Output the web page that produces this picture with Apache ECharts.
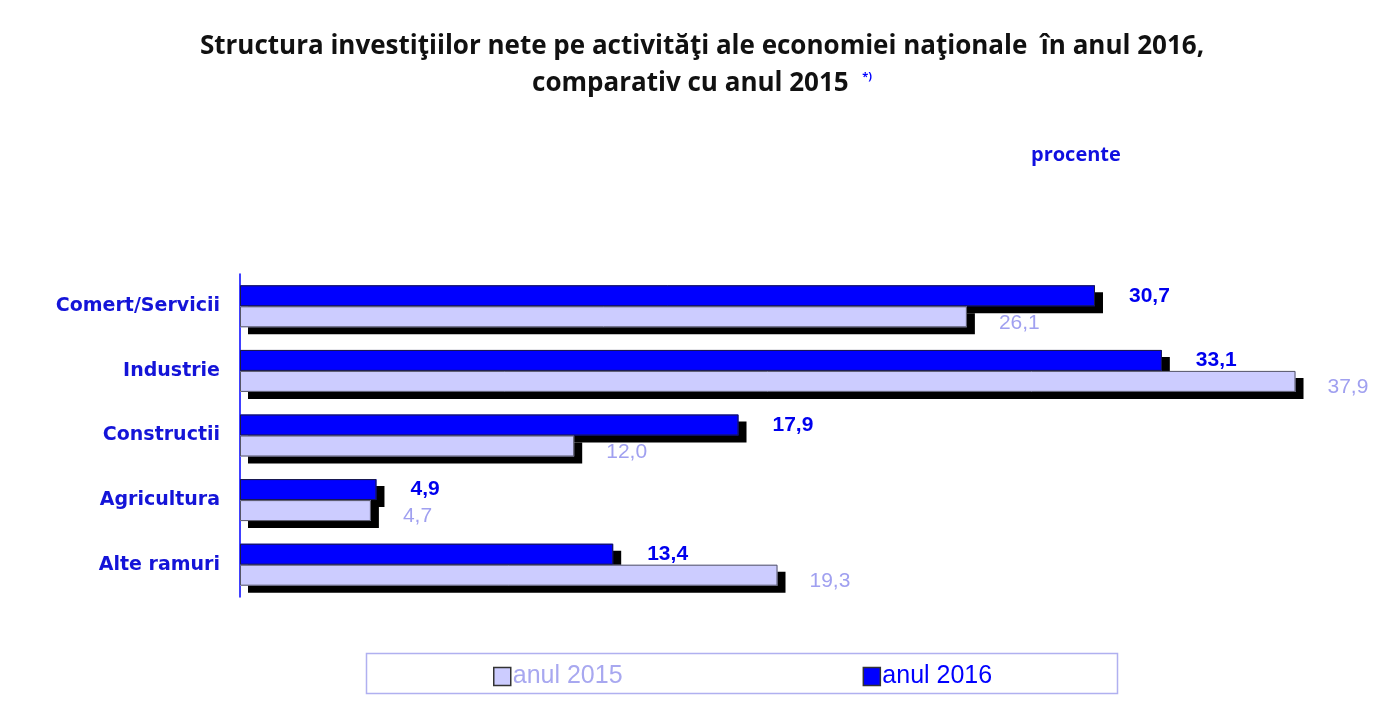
<!DOCTYPE html>
<html><head><meta charset="utf-8">
<script src="https://cdn.jsdelivr.net/npm/echarts@6/dist/echarts.min.js"></script>
<style>html,body{margin:0;padding:0;background:#fff}#c{width:1400px;height:726px}</style>
</head><body><div id="c"></div>
<script>
const categories = ['Comert/Servicii', 'Industrie', 'Constructii', 'Agricultura', 'Alte ramuri'];
const values2015 = [26.1, 37.9, 12.0, 4.7, 19.3];
const values2016 = [30.7, 33.1, 17.9, 4.9, 13.4];
const seriesNames = ['anul 2015', 'anul 2016'];

const fmt = p => p.value.toFixed(1).replace('.', ',');
const outline = (data, color) => ({
  type: 'bar', data: data, yAxisIndex: 1, barWidth: 21, barGap: '0%', silent: true, z: 5,
  itemStyle: { color: 'transparent', borderColor: color, borderWidth: 1 }, label: { show: false }
});
const chart = echarts.init(document.getElementById('c'));
chart.setOption({
  animation: false,
  title: [{
    text: 'Structura investiţiilor nete pe activităţi ale economiei naţionale  în anul 2016,\ncomparativ cu anul 2015  {sup|*)}',
    left: 697, top: 23, textAlign: 'center',
    textStyle: { fontFamily: 'Open Sans', fontWeight: 'bold', fontSize: 26, color: '#111', lineHeight: 37,
      rich: { sup: { fontSize: 11, fontWeight: 'bold', color: '#0000ff', padding: [0, 0, 14, 0], fontFamily: 'Open Sans' } } }
  }, {
    text: 'procente', left: 1026, top: 140,
    textStyle: { fontFamily: 'Open Sans', fontWeight: 'bold', fontSize: 20, color: '#1010e0' }
  }],
  graphic: [{ type: 'rect', shape: { x: 366.5, y: 653.5, width: 751, height: 40 },
    style: { fill: 'none', stroke: '#b0b0f0', lineWidth: 1.5 } }],
  legend: {
    left: 488, top: 659, itemGap: 240, itemWidth: 17, itemHeight: 18, icon: 'rect',
    itemStyle: { borderColor: '#333', borderWidth: 1.5 },
    data: [
      { name: 'anul 2015', textStyle: { color: '#a8a8f0' } },
      { name: 'anul 2016', textStyle: { color: '#0000ff' } }
    ],
    textStyle: { fontFamily: 'Liberation Sans', fontSize: 25, padding: [0, 0, 0, -3] }
  },
  grid: { left: 240, top: 274, width: 1114, height: 323 },
  xAxis: { type: 'value', min: 0, max: 40, show: false },
  yAxis: [{
    type: 'category', data: categories, inverse: true,
    axisLine: { lineStyle: { color: '#0000ff', width: 1.5 } },
    axisTick: { show: false },
    axisLabel: { margin: 20, fontFamily: 'DejaVu Sans', fontWeight: 'bold', fontSize: 19, color: '#1414d8' }
  }, {
    type: 'category', data: categories, inverse: true, position: 'left', show: false
  }],
  series: [{
    name: seriesNames[1], type: 'bar', data: values2016, barWidth: 21, barGap: '0%',
    itemStyle: { color: '#0000ff',
      shadowColor: '#000', shadowBlur: 0, shadowOffsetX: 8, shadowOffsetY: 7 },
    label: { show: true, position: 'right', distance: 34, formatter: fmt,
      fontFamily: 'Liberation Sans', fontWeight: 'bold', fontSize: 21, color: '#0000ee' }
  }, {
    name: seriesNames[0], type: 'bar', data: values2015, barWidth: 21, barGap: '0%',
    itemStyle: { color: '#ccccff',
      shadowColor: '#000', shadowBlur: 0, shadowOffsetX: 8, shadowOffsetY: 7 },
    label: { show: true, position: 'right', distance: 32, offset: [0, 6], formatter: fmt,
      fontFamily: 'Liberation Sans', fontSize: 21, color: '#a0a0f0' }
  },
  outline(values2016, '#1a1a40'),
  outline(values2015, '#555566')]
});
</script></body></html>
